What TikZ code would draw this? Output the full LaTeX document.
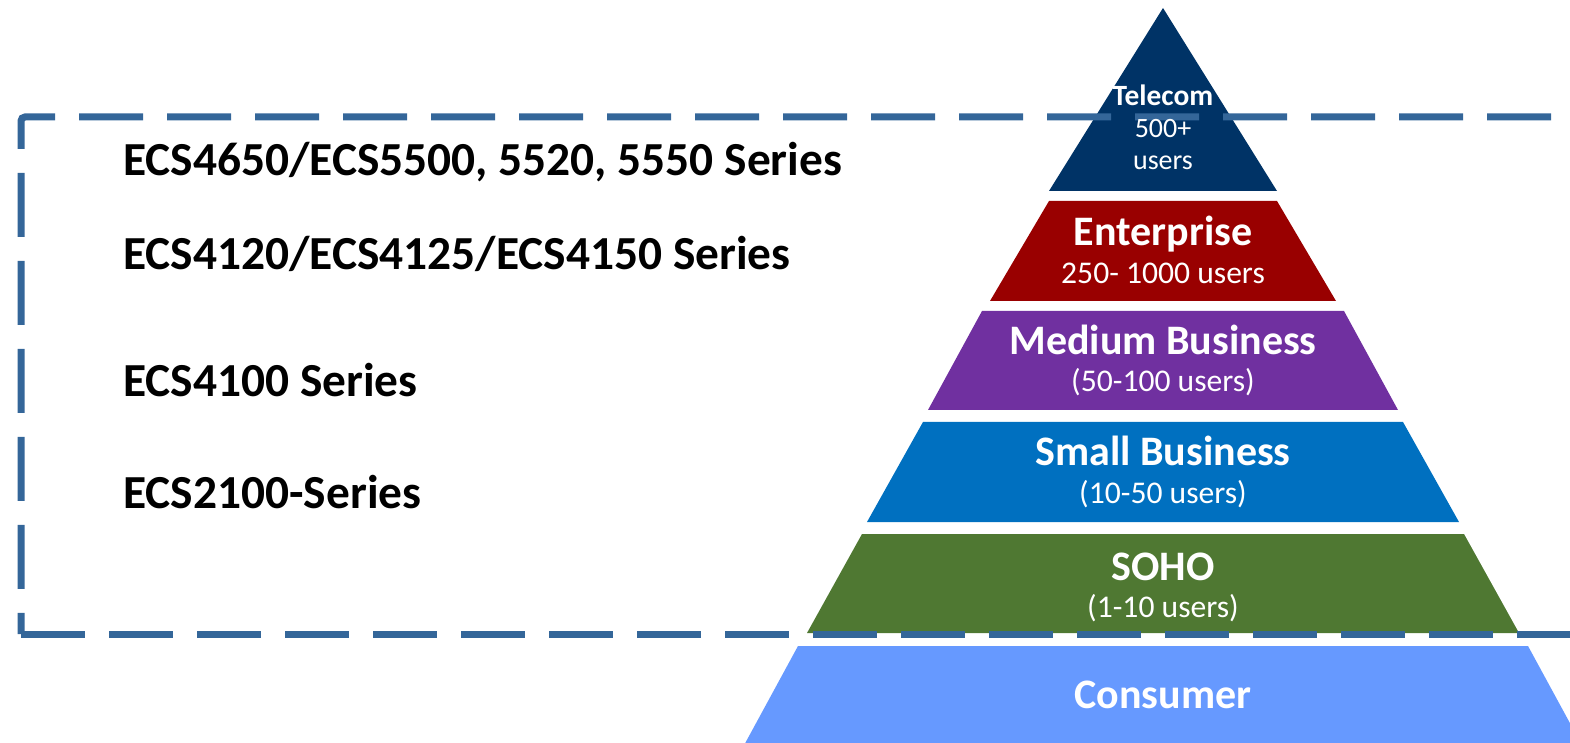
\documentclass[tikz,border=0pt]{standalone}
\usepackage{fontspec}
\setmainfont{Carlito}
\usepackage{tikz}

\definecolor{telecomblue}{HTML}{003366}
\definecolor{enterred}{HTML}{990000}
\definecolor{mediumpurple}{HTML}{7030A0}
\definecolor{smallblue}{HTML}{0070C0}
\definecolor{sohogreen}{HTML}{4F7832}
\definecolor{consumerblue}{HTML}{6699FF}
\definecolor{frameblue}{HTML}{346699}

\tikzset{
  layer/.style={inner sep=0pt, anchor=base, text=white},
  title/.style={layer, font=\fontsize{21}{25}\selectfont\bfseries},
  small title/.style={layer, font=\fontsize{14.7}{17}\selectfont\bfseries},
  small sub/.style={layer, font=\fontsize{14}{16}\selectfont},
  sub/.style={layer, font=\fontsize{15.8}{18}\selectfont},
  series/.style={inner sep=0pt, anchor=base west, font=\fontsize{23.7}{27}\selectfont\bfseries},
  frame/.style={draw=frameblue, line width=3.5pt, dash pattern=on 32pt off 12pt}
}

\begin{document}
\begin{tikzpicture}[x=0.5pt, y=-0.5pt]
    \useasboundingbox (0,0) rectangle (1570,743);
    \clip (0,0) rectangle (1570,743);

    % pyramid, top to bottom
    \fill[telecomblue] (1163,8) -- (1277,191) -- (1049,191) -- cycle;
    \fill[enterred] (1049,201) -- (1277,201) -- (1336,301) -- (990,301) -- cycle;
    \fill[mediumpurple] (982,311) -- (1344,311) -- (1398,410) -- (928,410) -- cycle;
    \fill[smallblue] (923,422) -- (1403,422) -- (1459,522) -- (867,522) -- cycle;
    \fill[sohogreen] (862,534) -- (1464,534) -- (1519,633) -- (807,633) -- cycle;
    \fill[consumerblue] (798,646) -- (1528,646) -- (1590,760) -- (736,760) -- cycle;

    % dashed frame
    \draw[frame, rounded corners=2pt] (1639,117) -- (21,117) -- (21,634);
    \draw[frame] (21,634) -- (1650,634);

    % series labels
    \node[series] (s4650) at (123,176) {ECS4650/ECS5500, 5520, 5550 Series};
    \node[series] (s4120) at (123,270) {ECS4120/ECS4125/ECS4150 Series};
    \node[series] (s4100) at (123,397) {ECS4100 Series};
    \node[series] (s2100) at (123,508) {ECS2100-Series};

    % layer texts
    \node[small title] (tel) at (1163,106) {Telecom};
    \node[small sub] (telnum) at (1163,138) {500+};
    \node[small sub] (telusers) at (1163,170) {users};
    \node[title] (ent) at (1163,246) {Enterprise};
    \node[sub] (entsub) at (1163,284) {250- 1000 users};
    \node[title] (med) at (1163,355) {Medium Business};
    \node[sub] (medsub) at (1163,392) {(50-100 users)};
    \node[title] (sml) at (1163,466) {Small Business};
    \node[sub] (smlsub) at (1163,503) {(10-50 users)};
    \node[title] (soho) at (1163,580) {SOHO};
    \node[sub] (sohosub) at (1163,617) {(1-10 users)};
    \node[title] (con) at (1163,708) {Consumer};
\end{tikzpicture}
\end{document}
